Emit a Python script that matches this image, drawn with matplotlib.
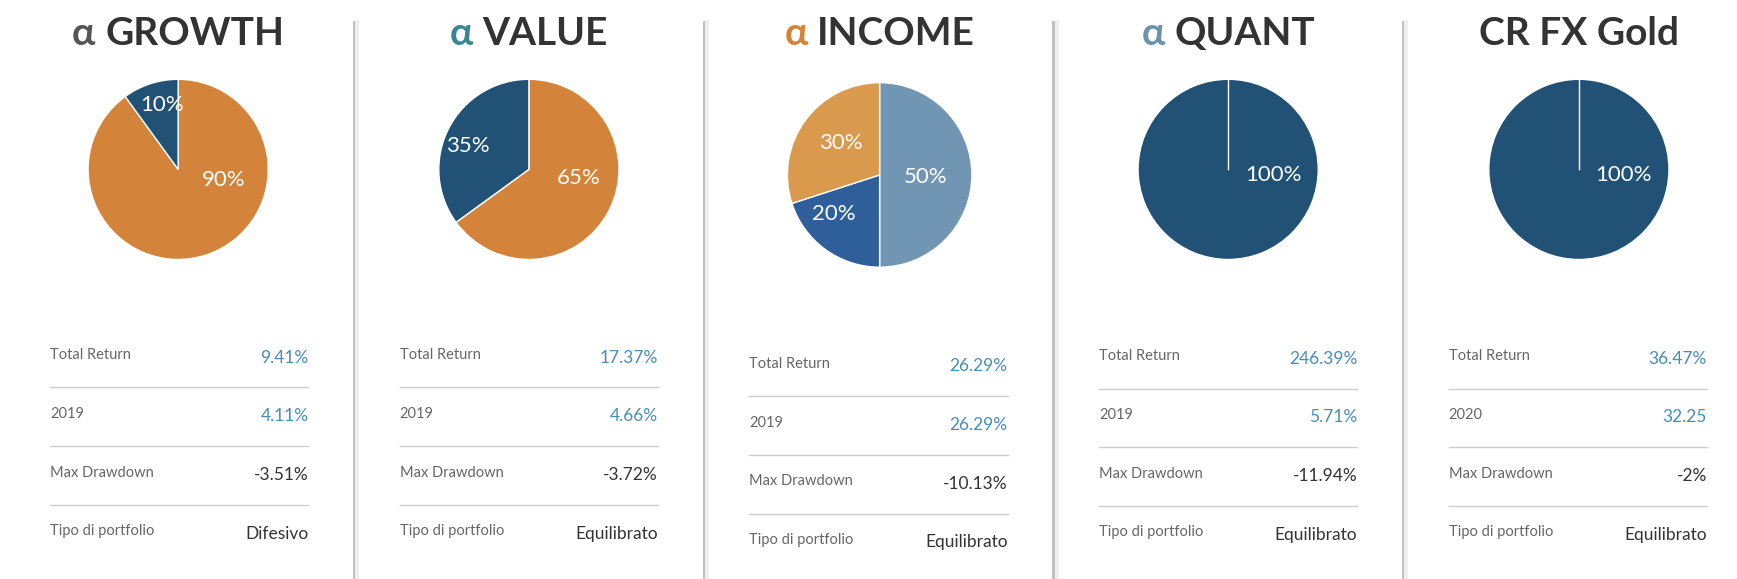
import matplotlib.pyplot as plt
from matplotlib.lines import Line2D

# portfolio data
names = ["GROWTH", "VALUE", "INCOME", "QUANT", "CR FX Gold"]
alpha_colors = ["#555555", "#3A8595", "#D4843A", "#6A93AE", None]
shares = [[90, 10], [65, 35], [50, 20, 30], [100], [100]]
slice_colors = [["#D4843A", "#215174"], ["#D4843A", "#215174"],
                ["#7096B3", "#2F5F9A", "#DA9A4D"], ["#215174"], ["#215174"]]
# label offsets in units of the radius
label_pos = [[(0.5, -0.12), (-0.18, 0.72)],
             [(0.55, -0.1), (-0.68, 0.26)],
             [(0.5, -0.02), (-0.5, -0.42), (-0.42, 0.35)],
             [(0.5, -0.06)], [(0.5, -0.06)]]
row_labels = [["Total Return", "2019", "Max Drawdown", "Tipo di portfolio"]] * 4 + \
             [["Total Return", "2020", "Max Drawdown", "Tipo di portfolio"]]
total_return = ["9.41%", "17.37%", "26.29%", "246.39%", "36.47%"]
year_return = ["4.11%", "4.66%", "26.29%", "5.71%", "32.25"]
max_dd = ["-3.51%", "-3.72%", "-10.13%", "-11.94%", "-2%"]
tipo = ["Difesivo", "Equilibrato", "Equilibrato", "Equilibrato", "Equilibrato"]

W, H = 1560, 523  # reference layout units
fig = plt.figure(figsize=(17.37, 5.79), dpi=100)
fig.patch.set_facecolor("white")

pie_cx = [160, 475, 790, 1103, 1418]
pie_cy = [153, 153, 158, 153, 153]
pie_r = [83, 83, 85, 83, 83]
row_y0 = [323, 323, 331, 324, 324]
font = "Lato"
tsize = 28
ty = 1 - 30 / H

for i in range(5):
    cx, cy, r = pie_cx[i], pie_cy[i], pie_r[i]
    ax = fig.add_axes([(cx - r) / W, 1 - (cy + r) / H, 2 * r / W, 2 * r / H])
    ax.pie(shares[i], colors=slice_colors[i], startangle=90, counterclock=False,
           wedgeprops=dict(edgecolor="white", linewidth=1))
    if len(shares[i]) == 1:
        ax.plot([0, 0], [0, 1], color="white", lw=1)
    for (lx, ly), s in zip(label_pos[i], shares[i]):
        ax.text(lx, ly, f"{s}%", color="white", fontsize=16, ha="center",
                va="center", family=font, clip_on=False, zorder=5)
    ax.set_xlim(-1.02, 1.02)
    ax.set_ylim(-1.02, 1.02)
    ax.axis("off")

    # title, alpha part coloured separately
    tx = cx / W
    if alpha_colors[i]:
        t = fig.text(0, 0, "α " + names[i], fontsize=tsize, fontweight="bold", family=font)
        ta = fig.text(0, 0, "α ", fontsize=tsize, fontweight="bold", family=font)
        fig.canvas.draw()
        wfull = t.get_window_extent().width / fig.bbox.width
        wa = ta.get_window_extent().width / fig.bbox.width
        t.remove()
        ta.remove()
        x0 = tx - wfull / 2
        fig.text(x0, ty, "α", color=alpha_colors[i], fontsize=tsize,
                 fontweight="bold", family=font, ha="left", va="center")
        fig.text(x0 + wa, ty, names[i], color="#333333", fontsize=tsize,
                 fontweight="bold", family=font, ha="left", va="center")
    else:
        fig.text(tx, ty, names[i], color="#333333", fontsize=tsize,
                 fontweight="bold", family=font, ha="center", va="center")

    # stats table
    left = (45 + 314 * i) / W
    right = (277 + 314 * i) / W
    values = [total_return[i], year_return[i], max_dd[i], tipo[i]]
    vcolors = ["#4A8DB7", "#4A8DB7", "#333333", "#333333"]
    for k in range(4):
        y = 1 - (row_y0[i] + 53 * k) / H
        fig.text(left, y + 0.004, row_labels[i][k], color="#666666", fontsize=10.5,
                 family=font, va="center")
        fig.text(right, y, values[k], color=vcolors[k], fontsize=12.5,
                 family=font, va="center", ha="right")
        if k < 3:
            ly = 1 - (row_y0[i] + 53 * k + 27) / H
            fig.add_artist(Line2D([left, right], [ly, ly], color="#CCCCCC", lw=1))

# panel separators
for sx in [318, 632, 946, 1260]:
    fig.add_artist(Line2D([sx / W, sx / W], [0, 1 - 20 / H], color="#BBBBBB", lw=2))
    fig.add_artist(Line2D([(sx + 3) / W] * 2, [0, 1 - 20 / H], color="#EEEEEE", lw=3))

fig.savefig("out.png", dpi=100)
